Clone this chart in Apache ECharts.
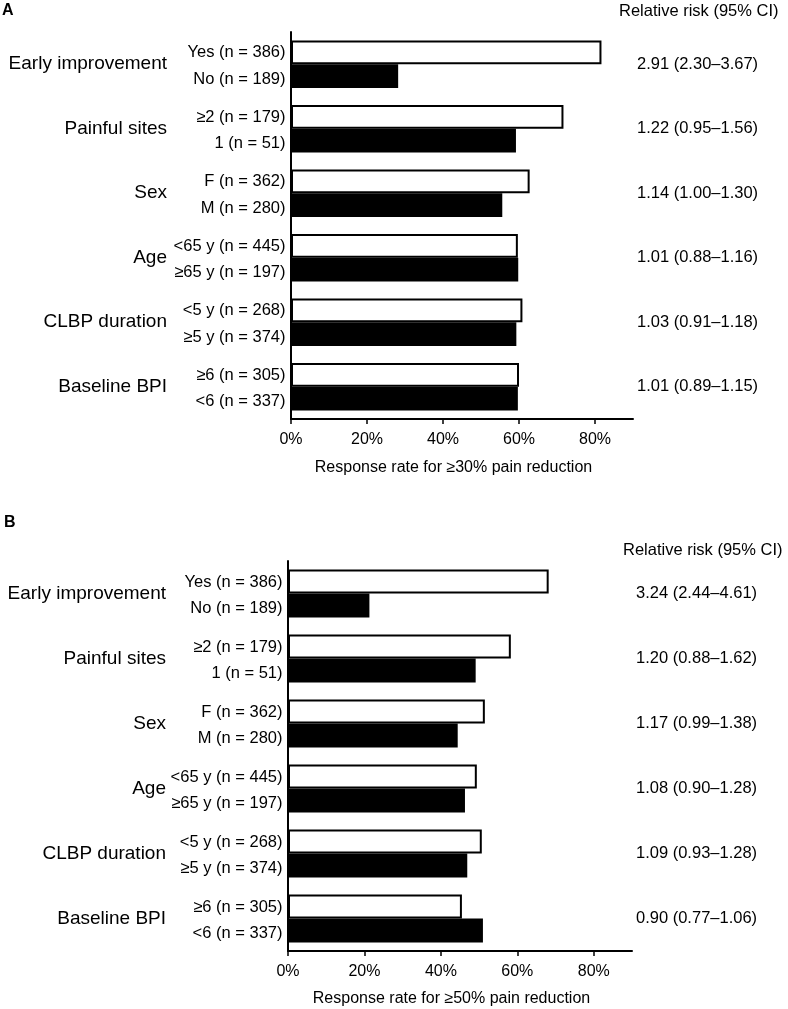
<!DOCTYPE html>
<html>
<head>
<meta charset="utf-8">
<script src="https://cdn.jsdelivr.net/npm/echarts@6.0.0/dist/echarts.min.js"></script>
<style>
html,body{margin:0;padding:0;background:#fff;}
#chart{width:788px;height:1009px;}
</style>
</head>
<body>
<div id="chart"></div>
<script>
// ---- data ----
const groups = ['Early improvement', 'Painful sites', 'Sex', 'Age', 'CLBP duration', 'Baseline BPI'];
const subTop = ['Yes (n = 386)', '≥2 (n = 179)', 'F (n = 362)', '<65 y (n = 445)', '<5 y (n = 268)', '≥6 (n = 305)'];
const subBottom = ['No (n = 189)', '1 (n = 51)', 'M (n = 280)', '≥65 y (n = 197)', '≥5 y (n = 374)', '<6 (n = 337)'];

const resp30Top = [81.7, 71.7, 62.8, 59.7, 60.9, 60.0];
const resp30Bottom = [28.2, 59.2, 55.6, 59.8, 59.3, 59.7];
const rr30 = ['2.91 (2.30–3.67)', '1.22 (0.95–1.56)', '1.14 (1.00–1.30)', '1.01 (0.88–1.16)', '1.03 (0.91–1.18)', '1.01 (0.89–1.15)'];

const resp50Top = [68.2, 58.3, 51.5, 49.4, 50.7, 45.5];
const resp50Bottom = [21.3, 49.1, 44.4, 46.3, 46.9, 51.0];
const rr50 = ['3.24 (2.44–4.61)', '1.20 (0.88–1.62)', '1.17 (0.99–1.38)', '1.08 (0.90–1.28)', '1.09 (0.93–1.28)', '0.90 (0.77–1.06)'];

const xTicks = [0, 20, 40, 60, 80];
const xTitles = ['Response rate for ≥30% pain reduction', 'Response rate for ≥50% pain reduction'];
const panelLetters = ['A', 'B'];
const rrHeader = 'Relative risk (95% CI)';

// ---- chart ----
const FONT = '"Liberation Sans", Arial, Helvetica, sans-serif';
const chart = echarts.init(document.getElementById('chart'), null, {renderer: 'canvas'});

const grids = [
  {left: 291, top: 32, width: 342, height: 387},
  {left: 288, top: 561, width: 344, height: 390}
];

function xAxisFor(i) {
  return {
    type: 'value', gridIndex: i, min: 0, max: 90,
    name: xTitles[i], nameLocation: 'middle', nameGap: i === 0 ? 41 : 40,
    nameTextStyle: {fontFamily: FONT, fontSize: 16, color: '#000', padding: [0, 17, 0, 0], verticalAlign: 'top'},
    axisLine: {show: true, lineStyle: {color: '#000', width: 2}},
    axisTick: {show: true, length: 5, lineStyle: {color: '#000', width: 1.5}, customValues: xTicks},
    axisLabel: {fontFamily: FONT, fontSize: 16, color: '#000', margin: 13, customValues: xTicks, formatter: v => v + '%'},
    splitLine: {show: false}
  };
}
function yAxisLeft(i, margin) {
  return {
    type: 'category', gridIndex: i, data: groups, inverse: true, position: 'left',
    axisLine: {show: true, lineStyle: {color: '#000', width: 2}},
    axisTick: {show: false},
    axisLabel: {fontFamily: FONT, fontSize: 19, color: '#000', margin: margin, padding: [3, 0, 0, 0]},
    splitLine: {show: false}
  };
}
function yAxisRight(i, rr) {
  return {
    type: 'category', gridIndex: i, data: groups, inverse: true, position: 'right',
    axisLine: {show: false}, axisTick: {show: false},
    axisLabel: {fontFamily: FONT, fontSize: 16.5, color: '#000', margin: 4, align: 'left',
      padding: [0, 0, 21, 0], formatter: (v, idx) => rr[idx]},
    splitLine: {show: false}
  };
}
function barPair(i, top, bottom) {
  const lab = (arr, dy) => ({
    show: true, position: 'left', distance: 5.5, offset: [0, dy],
    fontFamily: FONT, fontSize: 16.5, color: '#000',
    formatter: p => arr[p.dataIndex]
  });
  return [
    {type: 'bar', xAxisIndex: i, yAxisIndex: i * 2, data: top, barGap: '0%', barCategoryGap: '26%',
      itemStyle: {color: '#fff', borderColor: '#000', borderWidth: 2}, label: lab(subTop, 0.5), silent: true, animation: false},
    {type: 'bar', xAxisIndex: i, yAxisIndex: i * 2, data: bottom, barGap: '0%', barCategoryGap: '26%',
      itemStyle: {color: '#000'}, label: lab(subBottom, 3), silent: true, animation: false}
  ];
}

const option = {
  backgroundColor: '#fff',
  animation: false,
  grid: grids,
  xAxis: [xAxisFor(0), xAxisFor(1)],
  yAxis: [yAxisLeft(0, 124), yAxisRight(0, rr30), yAxisLeft(1, 122), yAxisRight(1, rr50)],
  series: [].concat(barPair(0, resp30Top, resp30Bottom), barPair(1, resp50Top, resp50Bottom)),
  graphic: [
    {type: 'text', left: 2, top: 3, style: {text: panelLetters[0], font: 'bold 16px ' + FONT, fill: '#000'}},
    {type: 'text', left: 4, top: 515, style: {text: panelLetters[1], font: 'bold 16px ' + FONT, fill: '#000'}},
    {type: 'text', left: 619, top: 3, style: {text: rrHeader, font: '16.5px ' + FONT, fill: '#000'}},
    {type: 'text', left: 623, top: 542, style: {text: rrHeader, font: '16.5px ' + FONT, fill: '#000'}}
  ]
};
chart.setOption(option);
</script>
</body>
</html>
